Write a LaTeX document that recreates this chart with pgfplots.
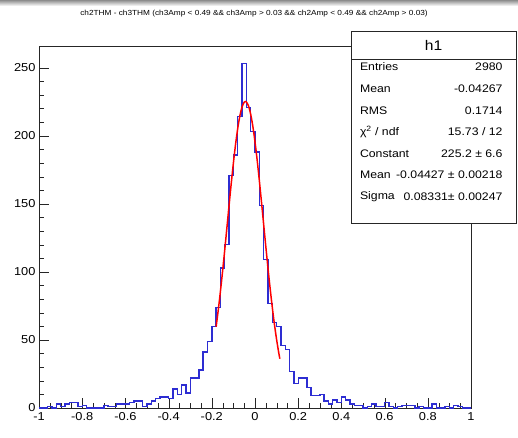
\documentclass[border=0pt]{standalone}
\usepackage{pgfplots}
\pgfplotsset{compat=1.18}
\usepackage{fontspec}
\setmainfont{Liberation Sans}[FakeStretch=1.12]
\definecolor{histblue}{RGB}{45,45,210}
\begin{document}
\begin{tikzpicture}[x=1bp,y=1bp]
\useasboundingbox (0,0) rectangle (518,438);
\shade[top color=black!45, bottom color=white] (0,432) rectangle (518,438);
\begin{axis}[
  at={(39bp,30bp)}, anchor=south west,
  scale only axis, width=432bp, height=362bp,
  xmin=-1, xmax=1, ymin=0, ymax=266,
  xtick={-1,-0.8,-0.6,-0.4,-0.2,0,0.2,0.4,0.6,0.8,1},
  ytick={0,50,100,150,200,250},
  minor x tick num=3, minor y tick num=4,
  xtick pos=bottom, ytick pos=left,
  tick align=inside,
  major tick length=10bp, minor tick length=5bp,
  /pgf/number format/assume math mode=true,
  ticklabel style={font=\fontsize{11.5}{13}\selectfont},
  xticklabel style={yshift=-1bp},
  axis line style={black!85},
  tick style={black!85},
  clip=false,
]
\addplot[const plot mark left, draw=histblue, color=histblue, line width=1.4bp] coordinates {
(-1.00,0) (-0.98,0) (-0.96,1) (-0.94,0) (-0.92,3) (-0.90,1) (-0.88,3) (-0.86,4) (-0.84,4) (-0.82,1)
(-0.80,2) (-0.78,0) (-0.76,0) (-0.74,0) (-0.72,0) (-0.70,2) (-0.68,1) (-0.66,1) (-0.64,3) (-0.62,3)
(-0.60,3) (-0.58,4) (-0.56,5) (-0.54,5) (-0.52,1) (-0.50,3) (-0.48,5) (-0.46,7) (-0.44,8) (-0.42,8)
(-0.40,7) (-0.38,14) (-0.36,10) (-0.34,17) (-0.32,11) (-0.30,22) (-0.28,22) (-0.26,28) (-0.24,41) (-0.22,49)
(-0.20,60) (-0.18,74) (-0.16,103) (-0.14,120) (-0.12,171) (-0.10,186) (-0.08,214) (-0.06,253) (-0.04,221) (-0.02,203)
(0.00,188) (0.02,149) (0.04,109) (0.06,77) (0.08,63) (0.10,60) (0.12,46) (0.14,43) (0.16,27) (0.18,18)
(0.20,22) (0.22,22) (0.24,15) (0.26,9) (0.28,9) (0.30,10) (0.32,5) (0.34,3) (0.36,6) (0.38,4)
(0.40,8) (0.42,6) (0.44,3) (0.46,2) (0.48,2) (0.50,0) (0.52,1) (0.54,3) (0.56,1) (0.58,1)
(0.60,4) (0.62,1) (0.64,0) (0.66,1) (0.68,2) (0.70,2) (0.72,2) (0.74,0) (0.76,1) (0.78,0)
(0.80,0) (0.82,3) (0.84,0) (0.86,0) (0.88,1) (0.90,0) (0.92,2) (0.94,1) (0.96,0) (0.98,0)
(1.00,0)
};
\addplot[red, line width=1.5pt, smooth] coordinates {
(-0.18,59.73) (-0.17,72.11) (-0.16,85.80) (-0.15,100.66) (-0.14,116.38) (-0.13,132.62)
(-0.12,148.99) (-0.11,164.96) (-0.10,180.05) (-0.09,193.70) (-0.08,205.41) (-0.07,214.71)
(-0.06,221.21) (-0.05,224.67) (-0.04427,225.2) (-0.04,224.90) (-0.03,221.92) (-0.02,215.85)
(-0.01,206.94) (0.00,195.54) (0.01,182.15) (0.02,167.24) (0.03,151.36) (0.04,135.01)
(0.05,118.73) (0.06,102.89) (0.07,87.92) (0.08,74.02) (0.09,61.43) (0.10,50.26)
(0.11,40.54) (0.115,36.21)
};
\end{axis}
% title
\node[font=\fontsize{7.4}{9}\selectfont, anchor=center] at (254,424)
  {ch2THM - ch3THM {(}ch3Amp < 0.49 \&\& ch3Amp > 0.03 \&\& ch2Amp < 0.49 \&\& ch2Amp > 0.03{)}};
% stats box
\draw[black!85, fill=white, line width=0.6pt] (351.7,215) rectangle (516,407);
\draw[black!85, line width=0.6pt] (351.7,378.7) -- (516,378.7);
\node[font=\fontsize{14}{16}\selectfont] at (433.5,393) {h1};
\begin{scope}[every node/.style={font=\fontsize{11}{12}\selectfont}]
\node[anchor=west] at (356.5,371.3) {Entries};
\node[anchor=east] at (506,371.3) {2980};
\node[anchor=west] at (356.5,349) {Mean};
\node[anchor=east] at (506,349) {-0.04267};
\node[anchor=west] at (356.5,327.5) {RMS};
\node[anchor=east] at (506,327.5) {0.1714};
\node[anchor=west] at (356.5,306) {χ\textsuperscript{2} / ndf};
\node[anchor=east] at (506,306) {15.73 / 12};
\node[anchor=west] at (356.5,284.5) {Constant};
\node[anchor=east] at (506,284.5) {225.2 ± 6.6};
\node[anchor=west] at (356.5,263) {Mean};
\node[anchor=east] at (506,263) {-0.04427 ± 0.00218};
\node[anchor=west] at (356.5,241.3) {Sigma};
\node[anchor=east] at (506,241.3) {0.08331± 0.00247};
\end{scope}
\end{tikzpicture}
\end{document}
